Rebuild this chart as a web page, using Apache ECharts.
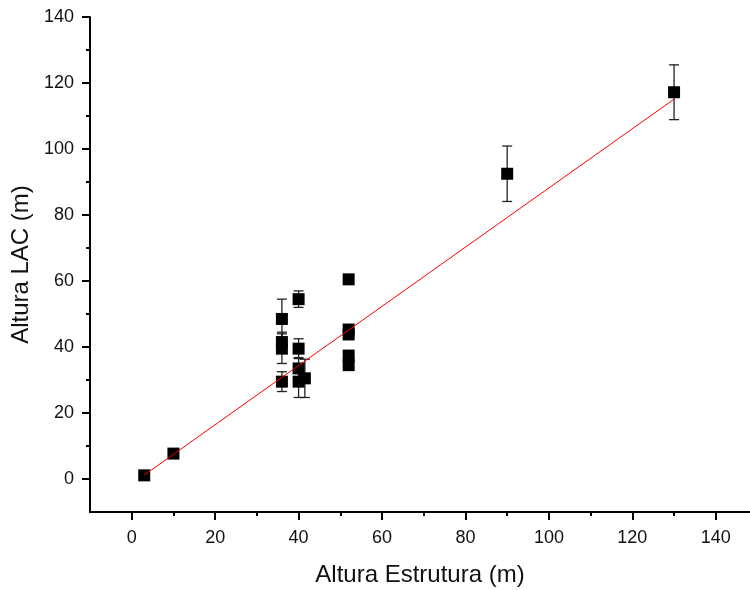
<!DOCTYPE html>
<html>
<head>
<meta charset="utf-8">
<script src="https://cdn.jsdelivr.net/npm/echarts@6/dist/echarts.min.js"></script>
<style>
  html, body { margin: 0; padding: 0; background: #fff; }
  #chart { width: 750px; height: 590px; }
</style>
</head>
<body>
<div id="chart"></div>
<script>
// measured points (x = altura estrutura, y = altura LAC, err = half-length of error bar)
const xValues = [3, 10, 36, 36, 36, 36, 40, 40, 40, 40, 41.5, 52, 52, 52, 52, 52, 90, 130]
const yValues = [1.1, 7.7, 48.5, 41.5, 39.5, 29.5, 54.5, 39.5, 33.5, 29.5, 30.5, 60.5, 45.3, 43.8, 37.4, 34.5, 92.5, 117.2]
const errValues = [0, 0, 6, 3, 4.5, 3, 2.5, 3, 3.3, 4.8, 5.8, 0, 0, 0, 0, 0, 8.4, 8.3]

// linear fit endpoints
const fitX = [3, 130]
const fitY = [1.2, 115.1]

const xMajorTicks = [0, 20, 40, 60, 80, 100, 120, 140]
const xMinorTicks = [10, 30, 50, 70, 90, 110, 130]
const yMajorTicks = [0, 20, 40, 60, 80, 100, 120, 140]
const yMinorTicks = [10, 30, 50, 70, 90, 110, 130]

const points = xValues.map((x, i) => [x, yValues[i], errValues[i]])
const fitLine = fitX.map((x, i) => [x, fitY[i]])

const font = '"Liberation Sans", Arial, sans-serif'
const ink = '#111'

const chart = echarts.init(document.getElementById('chart'), null, { renderer: 'canvas' })

const baseAxis = {
  type: 'value',
  splitLine: { show: false },
  axisLine: { onZero: false, lineStyle: { color: '#000', width: 2 } },
}

// the original x axis runs off the right edge, so it ends at ~148 rather than a round value
chart.setOption({
  animation: false,
  backgroundColor: '#fff',
  grid: { left: 90, right: 0, top: 17, bottom: 78, containLabel: false, outerBoundsMode: 'none' },
  xAxis: [
    {
      ...baseAxis,
      min: -10,
      max: 148.2,
      position: 'bottom',
      name: 'Altura Estrutura (m)',
      nameLocation: 'middle',
      nameGap: 51,
      nameTextStyle: { fontFamily: font, fontSize: 24, color: ink },
      axisTick: { length: 8, lineStyle: { color: '#000', width: 2 }, customValues: xMajorTicks },
      axisLabel: { margin: 17, fontFamily: font, fontSize: 18, color: ink, customValues: xMajorTicks },
    },
    {
      ...baseAxis,
      min: -10,
      max: 148.2,
      position: 'bottom',
      axisLine: { show: false, onZero: false },
      axisTick: { length: 4, lineStyle: { color: '#000', width: 2 }, customValues: xMinorTicks },
      axisLabel: { show: false },
    },
  ],
  yAxis: [
    {
      ...baseAxis,
      min: -10,
      max: 140,
      position: 'left',
      name: 'Altura LAC (m)',
      nameLocation: 'middle',
      nameGap: 54,
      nameTextStyle: { fontFamily: font, fontSize: 24, color: ink },
      axisTick: { length: 8, lineStyle: { color: '#000', width: 2 }, customValues: yMajorTicks },
      axisLabel: { margin: 16, fontFamily: font, fontSize: 18, color: ink, customValues: yMajorTicks },
    },
    {
      ...baseAxis,
      min: -10,
      max: 140,
      position: 'left',
      axisLine: { show: false, onZero: false },
      axisTick: { length: 4, lineStyle: { color: '#000', width: 2 }, customValues: yMinorTicks },
      axisLabel: { show: false },
    },
  ],
  series: [
    {
      type: 'custom',
      z: 1,
      data: points,
      renderItem: (params, api) => {
        const x = api.value(0)
        const y = api.value(1)
        const e = api.value(2)
        if (!e) return
        const top = api.coord([x, y + e])
        const bot = api.coord([x, y - e])
        const cap = 5
        const style = { stroke: '#222', lineWidth: 1.3 }
        return {
          type: 'group',
          children: [
            { type: 'line', shape: { x1: top[0], y1: top[1], x2: bot[0], y2: bot[1] }, style },
            { type: 'line', shape: { x1: top[0] - cap, y1: top[1], x2: top[0] + cap, y2: top[1] }, style },
            { type: 'line', shape: { x1: bot[0] - cap, y1: bot[1], x2: bot[0] + cap, y2: bot[1] }, style },
          ],
        }
      },
    },
    {
      type: 'scatter',
      z: 2,
      symbol: 'rect',
      symbolSize: 12,
      itemStyle: { color: '#000', opacity: 1 },
      data: points.map((p) => [p[0], p[1]]),
    },
    {
      type: 'line',
      z: 3,
      showSymbol: false,
      symbol: 'none',
      lineStyle: { color: '#ff0000', width: 1 },
      data: fitLine,
    },
  ],
})
</script>
</body>
</html>
